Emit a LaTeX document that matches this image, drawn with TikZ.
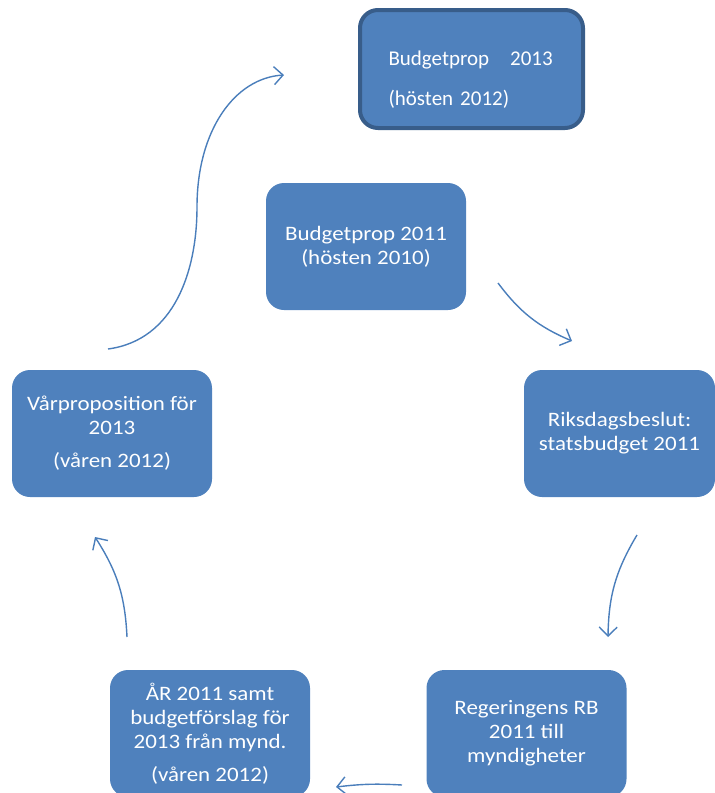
\documentclass[tikz,border=0pt]{standalone}
\usepackage{fontspec}
\setmainfont{Carlito}
\newfontfamily\boxfont{Carlito}[FakeStretch=1.12]
\usetikzlibrary{arrows.meta}
\definecolor{boxblue}{HTML}{4F81BD}
\definecolor{boxline}{HTML}{385D8A}
\definecolor{arrowblue}{HTML}{4A7EBB}
\tikzset{
cyclebox/.style={fill=boxblue, rounded corners=18pt, text=white, align=center,
  minimum width=200pt, minimum height=127pt, inner sep=0pt,
  font=\boxfont\fontsize{20.5}{24}\selectfont},
cyclearrow/.style={draw=arrowblue, line width=1.4pt,
  -{Straight Barb[length=9pt, width=18pt, line width=1.4pt]}}
}
\begin{document}
\begin{tikzpicture}[x=1pt, y=-1pt]
	\useasboundingbox (0,0) rectangle (715,793);

	\node[cyclebox, draw=boxline, line width=4pt, minimum width=223pt, minimum height=118pt,
	  text width=166pt, align=left, font=\fontsize{21}{24}\selectfont] (bp13) at (471.5,69)
	  {\rule{0pt}{35pt}Budgetprop\quad 2013\\[16pt](hösten 2012)};
	\node[cyclebox] (bp11) at (366,246.5) {Budgetprop 2011\\(hösten 2010)};
	\node[cyclebox, minimum width=191pt] (rd) at (619.5,433.5) {Riksdagsbeslut:\\statsbudget 2011};
	\node[cyclebox] (rb) at (526.5,733.5) {Regeringens RB\\2011 till\\myndigheter};
	\node[cyclebox] (ar) at (210,733.5) {ÅR 2011 samt\\budgetförslag för\\2013 från mynd.\\[9pt](våren 2012)};
	\node[cyclebox] (vp) at (112,433.5) {Vårproposition för\\2013\\[9pt](våren 2012)};

	\coordinate (a1s) at (498,283);
	\coordinate (a1e) at (572,341);
	\coordinate (a2s) at (637,535);
	\coordinate (a2e) at (608,637);
	\coordinate (a3s) at (402,785);
	\coordinate (a3e) at (336,787);
	\coordinate (a4s) at (127,637);
	\coordinate (a4e) at (95,537);
	\coordinate (a5s) at (108,349);
	\coordinate (a5m) at (197,207);
	\coordinate (a5e) at (284,75);

	\draw[cyclearrow] (a1s) to[bend right=15] (a1e);
	\draw[cyclearrow] (a2s) to[bend right=15] (a2e);
	\draw[cyclearrow] (a3s) to[bend right=5] (a3e);
	\draw[cyclearrow] (a4s) to[bend right=15] (a4e);
	\draw[cyclearrow] (a5s) .. controls (175,340) and (197,270) .. (a5m)
	  .. controls (197,130) and (235,78) .. (a5e);
\end{tikzpicture}
\end{document}
